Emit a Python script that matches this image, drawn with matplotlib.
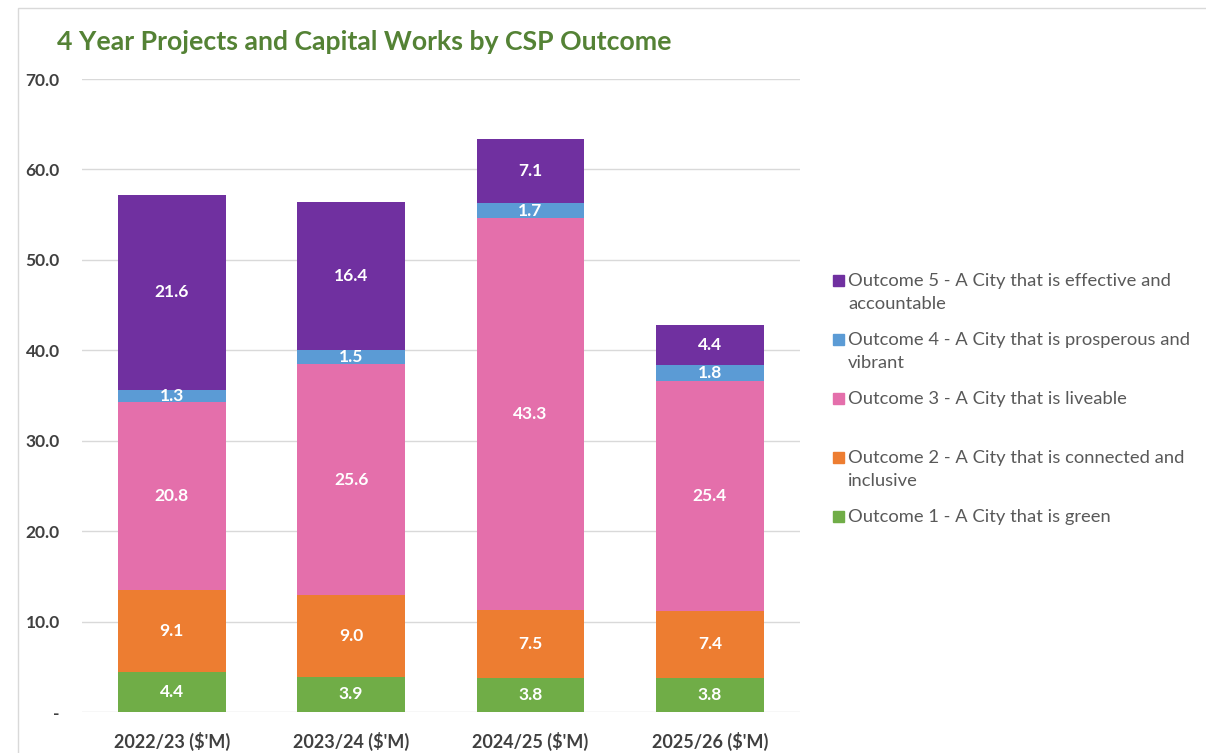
import numpy as np
import matplotlib.pyplot as plt
from matplotlib.patches import Rectangle

# ========== DATOS ==========
anios = ["2022/23 ($'M)", "2023/24 ($'M)", "2024/25 ($'M)", "2025/26 ($'M)"]
outcome1 = [4.4, 3.9, 3.8, 3.8]
outcome2 = [9.1, 9.0, 7.5, 7.4]
outcome3 = [20.8, 25.6, 43.3, 25.4]
outcome4 = [1.3, 1.5, 1.7, 1.8]
outcome5 = [21.6, 16.4, 7.1, 4.4]

nombres = [
    "Outcome 1 - A City that is green",
    "Outcome 2 - A City that is connected and\ninclusive",
    "Outcome 3 - A City that is liveable",
    "Outcome 4 - A City that is prosperous and\nvibrant",
    "Outcome 5 - A City that is effective and\naccountable",
]
colores = ['#70AD47', '#ED7D31', '#E46FAB', '#5B9BD5', '#7030A0']
series = [outcome1, outcome2, outcome3, outcome4, outcome5]

y_ticks = [0, 10, 20, 30, 40, 50, 60, 70]

plt.rcParams['font.family'] = ['Lato', 'DejaVu Sans']

fig = plt.figure(figsize=(12.06, 7.53), dpi=100)
ax = fig.add_axes([0.068, 0.0544, 0.595, 0.8406])

# borde de la figura
fig.patches.append(Rectangle((0.015, -0.01), 1.0, 0.999, transform=fig.transFigure,
                             fill=False, edgecolor='#D9D9D9', linewidth=1))

x = np.arange(len(anios))
base = np.zeros(len(anios))
for vals, col in zip(series, colores):
    vals = np.array(vals)
    ax.bar(x, vals, bottom=base, width=0.6, color=col, zorder=3)
    for xi, b, v in zip(x, base, vals):
        ax.text(xi, b + v / 2, f"{v:.1f}", ha='center', va='center', color='white',
                fontsize=12.5, fontweight='bold', zorder=4)
    base += vals

ax.set_xlim(-0.5, 3.5)
ax.set_ylim(0, 70)
ax.set_yticks(y_ticks)
ax.set_yticklabels(['-' if t == 0 else f"{t:.1f}" for t in y_ticks],
                   fontsize=12.5, fontweight='bold', color='#404040')
ax.set_xticks(x)
ax.set_xticklabels(anios, fontsize=13, fontweight='bold', color='#404040')
ax.tick_params(length=0, pad=14)
ax.tick_params(axis='y', pad=16)
ax.grid(axis='y', color='#D9D9D9', linewidth=1, zorder=0)
for s in ax.spines.values():
    s.set_visible(False)

fig.text(0.047, 0.944, "4 Year Projects and Capital Works by CSP Outcome",
         fontsize=19.2, fontweight='bold', color='#548235', ha='left', va='center')

# leyenda manual (orden inverso, como en Excel)
y0 = 1 - 280 / 753
paso = 59 / 753
for i, (nombre, col) in enumerate(zip(nombres[::-1], colores[::-1])):
    yy = y0 - i * paso
    fig.patches.append(Rectangle((833 / 1206, yy - 5.5 / 753), 11 / 1206, 11 / 753,
                                 transform=fig.transFigure, color=col))
    fig.text(848 / 1206, yy + 7 / 753, nombre, fontsize=13.2, color='#595959',
             ha='left', va='top', linespacing=1.55)

plt.savefig('out.png', dpi=100)
